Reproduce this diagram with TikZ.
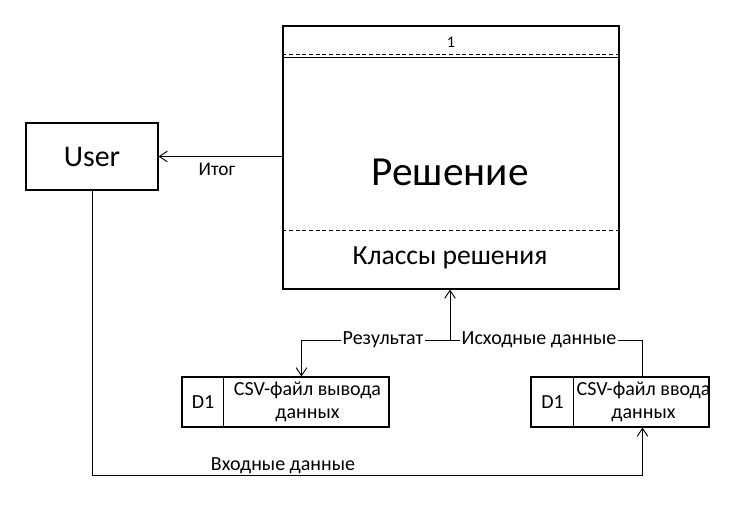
\documentclass[tikz,border=0pt]{standalone}
\usepackage{fontspec}
\setmainfont{Carlito}
\usetikzlibrary{arrows.meta,calc,positioning}

\begin{document}
\begin{tikzpicture}[x=0.75pt,y=-0.75pt,>={Straight Barb[length=6pt,width=8pt]},line width=0.7pt]
  \tikzset{
    box/.style={draw,line width=0.8pt,inner sep=0pt},
    flowlabel/.style={fill=white,inner sep=1pt,font=\fontsize{15}{18}\selectfont},
    storetext/.style={align=center,font=\fontsize{15}{17.5}\selectfont},
  }
  \useasboundingbox (0,0) rectangle (737,504);
  % boxes
  \node[box,minimum width=99pt,minimum height=50.25pt] (usr) at (92,156.5) {};
  \node[font=\fontsize{22.5}{27}\selectfont] (usrtxt) at (usr) {User};
  \node[box,minimum width=252pt,minimum height=197.25pt] (dec) at (451,157.5) {};
  \draw[line width=0.8pt] ($(dec.north west)+(0,32)$) -- ($(dec.north east)+(0,32)$);
  \draw[line width=0.4pt,densely dashed] ($(dec.north west)+(0,29)$) -- ($(dec.north east)+(0,29)$);
  \draw[line width=0.4pt,densely dashed] ($(dec.south west)+(0,-59)$) -- ($(dec.south east)+(0,-59)$);
  \node[font=\fontsize{12}{14}\selectfont] (decnum) at (451,42) {1};
  \node[font=\fontsize{31}{37}\selectfont] (decname) at (450,172) {Решение};
  \node[font=\fontsize{20.7}{24}\selectfont] (decsub) at (450,258) {Классы решения};
  % stores
  \node[box,minimum width=155.25pt,minimum height=37.5pt] (outs) at (285.5,402) {};
  \draw[line width=0.8pt] ([xshift=31.5pt]outs.north west) -- ([xshift=31.5pt]outs.south west);
  \node[storetext] (outsid) at (203,402) {D1};
  \node[storetext] (outstxt) at (307.5,402) {CSV-файл вывода\\данных};
  \node[box,minimum width=133.5pt,minimum height=37.5pt] (ins) at (620,402) {};
  \draw[line width=0.8pt] ([xshift=32.25pt]ins.north west) -- ([xshift=32.25pt]ins.south west);
  \node[storetext] (insid) at (552.5,402) {D1};
  \node[storetext] (instxt) at (643.5,402) {CSV-файл ввода\\данных};
  % flows
  \coordinate (jn) at (450,340);
  \coordinate (bot) at (0,475);
  \coordinate (outin) at ([xshift=90pt]outs.north west);
  \coordinate (intop) at ([xshift=84pt]ins.north west);
  \coordinate (inbot) at ([xshift=84pt]ins.south west);
  \draw[->] (dec.west |- usr.east) -- (usr.east);
  \node[font=\fontsize{14.5}{17}\selectfont] (itog) at (217,169) {Итог};
  \draw[->] (jn) -- (jn |- dec.south);
  \draw[->] (jn) -- (jn -| outin) -- (outin);
  \draw (jn) -- (jn -| intop) -- (intop);
  \node[flowlabel] (res) at (383,340) {Результат};
  \node[flowlabel] (src) at (539,340) {Исходные данные};
  \draw[->] (usr.south) -- (usr.south |- bot) -- (inbot |- bot) -- (inbot);
  \node[font=\fontsize{15}{18}\selectfont] (inp) at (283,466) {Входные данные};
\end{tikzpicture}
\end{document}
